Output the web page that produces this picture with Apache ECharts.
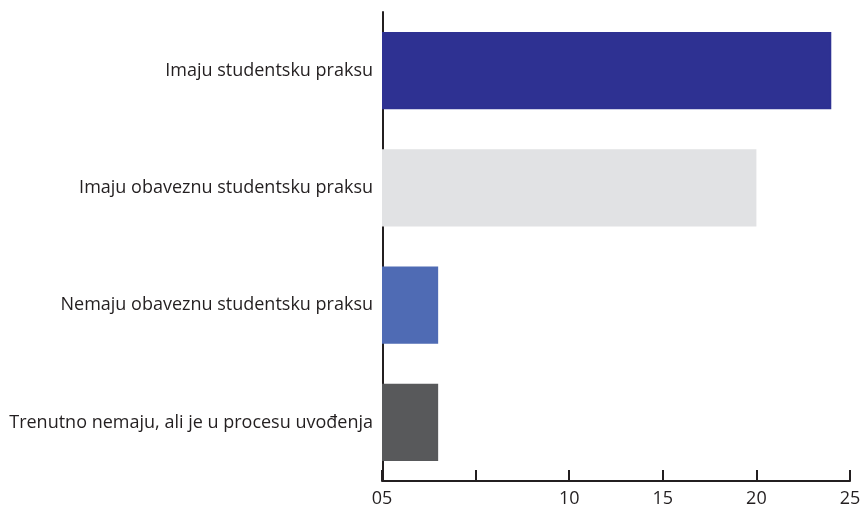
<!DOCTYPE html>
<html><head><meta charset="utf-8">
<script src="https://cdn.jsdelivr.net/npm/echarts@6/dist/echarts.min.js"></script>
<style>html,body{margin:0;padding:0;background:#fff}#c{width:864px;height:510px}</style>
</head><body><div id="c"></div>
<script>
var categories = ["Imaju studentsku praksu","Imaju obaveznu studentsku praksu","Nemaju obaveznu studentsku praksu","Trenutno nemaju, ali je u procesu uvođenja"];
var values = [24, 20, 3, 3];
var barColors = ["#2e3192", "#e1e2e4", "#4f6bb4", "#58595b"];
var xTickLabels = ["05", "", "10", "15", "20", "25"];
var xMin = 0, xMax = 25, xStep = 5;

var chart = echarts.init(document.getElementById('c'), null, {renderer: 'canvas'});
chart.setOption({
  animation: false,
  backgroundColor: '#ffffff',
  grid: {left: 382, right: 14, top: 12, bottom: 29, containLabel: false},
  xAxis: {
    type: 'value', min: xMin, max: xMax, interval: xStep,
    axisLine: {show: true, lineStyle: {color: '#231f20', width: 2}},
    axisTick: {show: true, inside: true, length: 11, lineStyle: {color: '#231f20', width: 2}},
    splitLine: {show: false},
    axisLabel: {
      color: '#231f20', fontFamily: 'Open Sans', fontSize: 18, margin: 9,
      formatter: function (v) { return xTickLabels[Math.round((v - xMin) / xStep)]; }
    }
  },
  yAxis: {
    type: 'category', data: categories, inverse: true, offset: -1,
    axisLine: {show: true, lineStyle: {color: '#231f20', width: 2}},
    axisTick: {show: false},
    axisLabel: {color: '#231f20', fontFamily: 'Open Sans', fontSize: 18, margin: 10}
  },
  series: [{
    type: 'bar', barWidth: '66%', zlevel: 1, clip: false,
    data: values.map(function (v, i) {
      return {value: v, itemStyle: {color: barColors[i], borderColor: barColors[i], borderWidth: 2}};
    })
  }]
});
</script></body></html>
